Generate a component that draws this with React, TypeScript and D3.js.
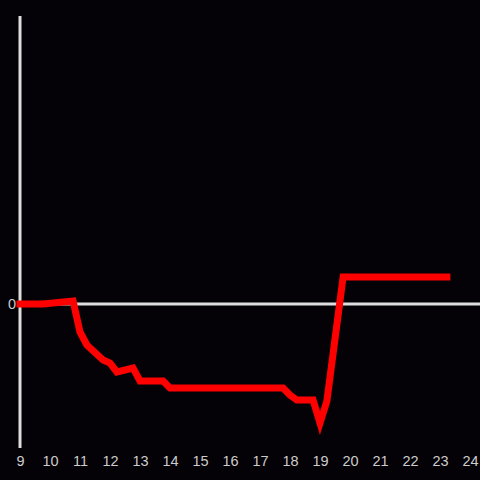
import React from "react";
import * as d3 from "d3";

const hours = [9, 9.77, 10.77, 11, 11.23, 11.77, 12, 12.23, 12.77, 13, 13.77, 14, 17.77, 18, 18.23, 18.77, 19, 19.23, 19.77, 23.23];
const values = [0, 0, 3, -28, -41, -56, -59, -68, -64, -77, -77, -84, -84, -91, -96, -96, -119, -97, 27, 27];
const xTicks = [9, 10, 11, 12, 13, 14, 15, 16, 17, 18, 19, 20, 21, 22, 23, 24];
const yTicks = [0];

export default function App() {
  const W = 480, H = 480;
  const x = d3.scaleLinear().domain([9, 24]).range([20, 470]);
  const y = d3.scaleLinear().domain([-144, 288]).range([448, 16]);
  const data = hours.map((h, i) => [h, values[i]] as [number, number]);
  const line = d3.line<[number, number]>().x(d => x(d[0])).y(d => y(d[1]));
  return (
    <svg width={W} height={H} style={{ position: "fixed", left: 0, top: 0, display: "block" }}
      fontFamily="'Liberation Sans', Arial, sans-serif">
      <rect x={0} y={0} width={W} height={H} fill="#040206" />
      <line x1={x(9)} x2={x(9)} y1={y(288)} y2={y(-144)} stroke="#dddddd" strokeWidth={3} />
      <line x1={x(9)} x2={W} y1={y(0)} y2={y(0)} stroke="#dddddd" strokeWidth={3} />
      {yTicks.map(t => (
        <text key={t} x={16} y={y(t)} dy="0.35em" textAnchor="end" fontSize={14.5} fill="#cccccc">{t}</text>
      ))}
      {xTicks.map(t => (
        <text key={t} x={x(t) + 0.6} y={461} dy="0.35em" textAnchor="middle" fontSize={14.5} fill="#cccccc">{t}</text>
      ))}
      <path d={line(data) || ""} fill="none" stroke="#ff0000" strokeWidth={7} strokeLinecap="square" strokeLinejoin="miter" />
    </svg>
  );
}
